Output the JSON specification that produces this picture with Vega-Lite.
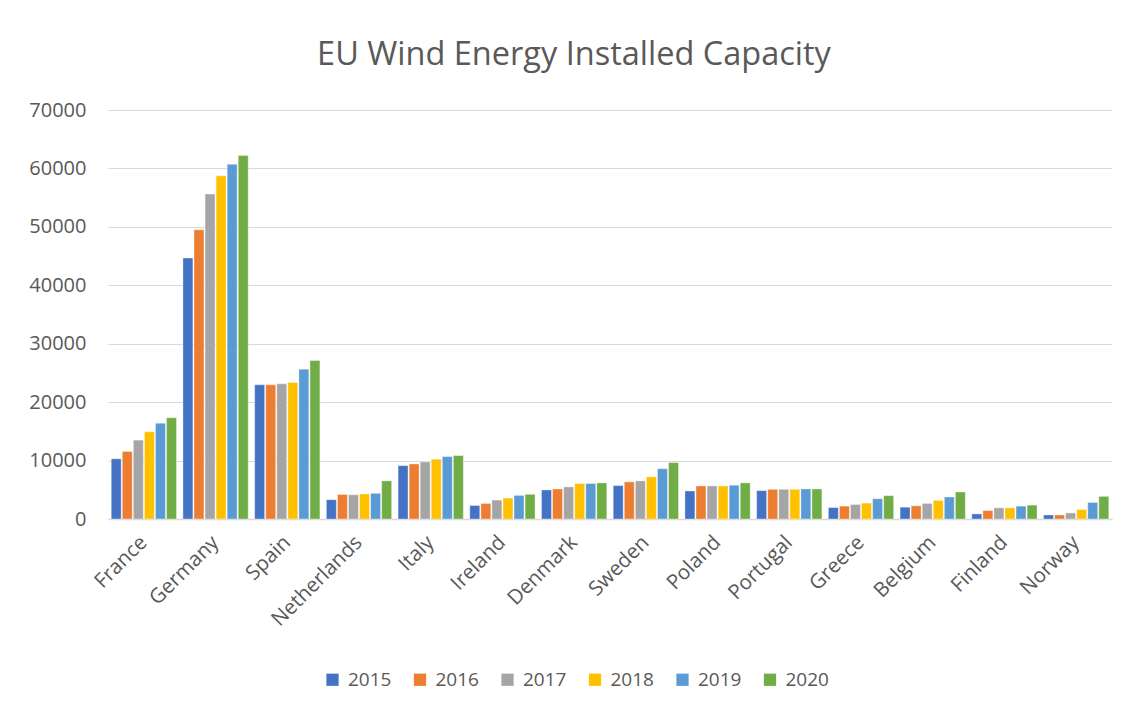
{
  "$schema": "https://vega.github.io/schema/vega-lite/v6.json",
  "width": 1004,
  "height": 409,
  "autosize": {"type": "none"},
  "padding": {"left": 108, "top": 110, "right": 16, "bottom": 192},
  "background": "white",
  "title": {
    "text": "EU Wind Energy Installed Capacity",
    "font": "Open Sans",
    "fontSize": 32.5,
    "fontWeight": "normal",
    "color": "#595959",
    "anchor": "middle",
    "frame": "group",
    "dx": -36,
    "offset": 29
  },
  "data": {
    "values": [
      {"country": "France", "year": "2015", "value": 10300},
      {"country": "France", "year": "2016", "value": 11560},
      {"country": "France", "year": "2017", "value": 13500},
      {"country": "France", "year": "2018", "value": 14920},
      {"country": "France", "year": "2019", "value": 16400},
      {"country": "France", "year": "2020", "value": 17320},
      {"country": "Germany", "year": "2015", "value": 44670},
      {"country": "Germany", "year": "2016", "value": 49490},
      {"country": "Germany", "year": "2017", "value": 55620},
      {"country": "Germany", "year": "2018", "value": 58740},
      {"country": "Germany", "year": "2019", "value": 60720},
      {"country": "Germany", "year": "2020", "value": 62200},
      {"country": "Spain", "year": "2015", "value": 22960},
      {"country": "Spain", "year": "2016", "value": 22960},
      {"country": "Spain", "year": "2017", "value": 23130},
      {"country": "Spain", "year": "2018", "value": 23350},
      {"country": "Spain", "year": "2019", "value": 25640},
      {"country": "Spain", "year": "2020", "value": 27110},
      {"country": "Netherlands", "year": "2015", "value": 3300},
      {"country": "Netherlands", "year": "2016", "value": 4200},
      {"country": "Netherlands", "year": "2017", "value": 4150},
      {"country": "Netherlands", "year": "2018", "value": 4280},
      {"country": "Netherlands", "year": "2019", "value": 4400},
      {"country": "Netherlands", "year": "2020", "value": 6530},
      {"country": "Italy", "year": "2015", "value": 9130},
      {"country": "Italy", "year": "2016", "value": 9420},
      {"country": "Italy", "year": "2017", "value": 9760},
      {"country": "Italy", "year": "2018", "value": 10230},
      {"country": "Italy", "year": "2019", "value": 10690},
      {"country": "Italy", "year": "2020", "value": 10860},
      {"country": "Ireland", "year": "2015", "value": 2310},
      {"country": "Ireland", "year": "2016", "value": 2660},
      {"country": "Ireland", "year": "2017", "value": 3240},
      {"country": "Ireland", "year": "2018", "value": 3580},
      {"country": "Ireland", "year": "2019", "value": 4040},
      {"country": "Ireland", "year": "2020", "value": 4220},
      {"country": "Denmark", "year": "2015", "value": 4970},
      {"country": "Denmark", "year": "2016", "value": 5140},
      {"country": "Denmark", "year": "2017", "value": 5490},
      {"country": "Denmark", "year": "2018", "value": 6070},
      {"country": "Denmark", "year": "2019", "value": 6070},
      {"country": "Denmark", "year": "2020", "value": 6180},
      {"country": "Sweden", "year": "2015", "value": 5720},
      {"country": "Sweden", "year": "2016", "value": 6350},
      {"country": "Sweden", "year": "2017", "value": 6530},
      {"country": "Sweden", "year": "2018", "value": 7220},
      {"country": "Sweden", "year": "2019", "value": 8610},
      {"country": "Sweden", "year": "2020", "value": 9650},
      {"country": "Poland", "year": "2015", "value": 4800},
      {"country": "Poland", "year": "2016", "value": 5660},
      {"country": "Poland", "year": "2017", "value": 5660},
      {"country": "Poland", "year": "2018", "value": 5660},
      {"country": "Poland", "year": "2019", "value": 5780},
      {"country": "Poland", "year": "2020", "value": 6180},
      {"country": "Portugal", "year": "2015", "value": 4850},
      {"country": "Portugal", "year": "2016", "value": 5080},
      {"country": "Portugal", "year": "2017", "value": 5080},
      {"country": "Portugal", "year": "2018", "value": 5080},
      {"country": "Portugal", "year": "2019", "value": 5140},
      {"country": "Portugal", "year": "2020", "value": 5140},
      {"country": "Greece", "year": "2015", "value": 1960},
      {"country": "Greece", "year": "2016", "value": 2200},
      {"country": "Greece", "year": "2017", "value": 2480},
      {"country": "Greece", "year": "2018", "value": 2720},
      {"country": "Greece", "year": "2019", "value": 3470},
      {"country": "Greece", "year": "2020", "value": 3990},
      {"country": "Belgium", "year": "2015", "value": 2020},
      {"country": "Belgium", "year": "2016", "value": 2250},
      {"country": "Belgium", "year": "2017", "value": 2660},
      {"country": "Belgium", "year": "2018", "value": 3180},
      {"country": "Belgium", "year": "2019", "value": 3760},
      {"country": "Belgium", "year": "2020", "value": 4620},
      {"country": "Finland", "year": "2015", "value": 870},
      {"country": "Finland", "year": "2016", "value": 1440},
      {"country": "Finland", "year": "2017", "value": 1910},
      {"country": "Finland", "year": "2018", "value": 1910},
      {"country": "Finland", "year": "2019", "value": 2200},
      {"country": "Finland", "year": "2020", "value": 2370},
      {"country": "Norway", "year": "2015", "value": 690},
      {"country": "Norway", "year": "2016", "value": 690},
      {"country": "Norway", "year": "2017", "value": 1040},
      {"country": "Norway", "year": "2018", "value": 1620},
      {"country": "Norway", "year": "2019", "value": 2830},
      {"country": "Norway", "year": "2020", "value": 3870}
    ]
  },
  "mark": {"type": "bar", "stroke": "white", "strokeWidth": 0.6, "strokeOpacity": 0.6},
  "encoding": {
    "x": {
      "field": "country",
      "type": "nominal",
      "sort": null,
      "scale": {"paddingInner": 0.09, "paddingOuter": 0.045},
      "axis": {
        "title": null,
        "labelAngle": -45,
        "labelAlign": "right",
        "labelBaseline": "middle",
        "labelFont": "Open Sans",
        "labelFontSize": 20.5,
        "labelColor": "#595959",
        "labelPadding": 20,
        "ticks": false,
        "domainColor": "#d9d9d9",
        "domainWidth": 1.5,
        "grid": false
      }
    },
    "xOffset": {
      "field": "year",
      "type": "nominal",
      "scale": {"paddingInner": 0.1}
    },
    "y": {
      "field": "value",
      "type": "quantitative",
      "scale": {"domain": [0, 70000], "nice": false},
      "axis": {
        "title": null,
        "values": [0, 10000, 20000, 30000, 40000, 50000, 60000, 70000],
        "format": "d",
        "labelFont": "Open Sans",
        "labelFontSize": 20,
        "labelColor": "#595959",
        "labelPadding": 22,
        "ticks": false,
        "domain": false,
        "gridColor": "#d9d9d9",
        "gridWidth": 1.2
      }
    },
    "color": {
      "field": "year",
      "type": "nominal",
      "scale": {
        "domain": ["2015", "2016", "2017", "2018", "2019", "2020"],
        "range": ["#4472C4", "#ED7D31", "#A5A5A5", "#FFC000", "#5B9BD5", "#70AD47"]
      },
      "legend": {
        "title": null,
        "orient": "none",
        "direction": "horizontal",
        "legendX": 215,
        "legendY": 560,
        "symbolType": "square",
        "symbolSize": 150,
        "symbolStrokeWidth": 0,
        "symbolOpacity": 1,
        "labelFont": "Open Sans",
        "labelFontSize": 19,
        "labelColor": "#595959",
        "labelOffset": 6,
        "columnPadding": 18.5
      }
    }
  },
  "config": {
    "view": {"stroke": null}
  }
}
